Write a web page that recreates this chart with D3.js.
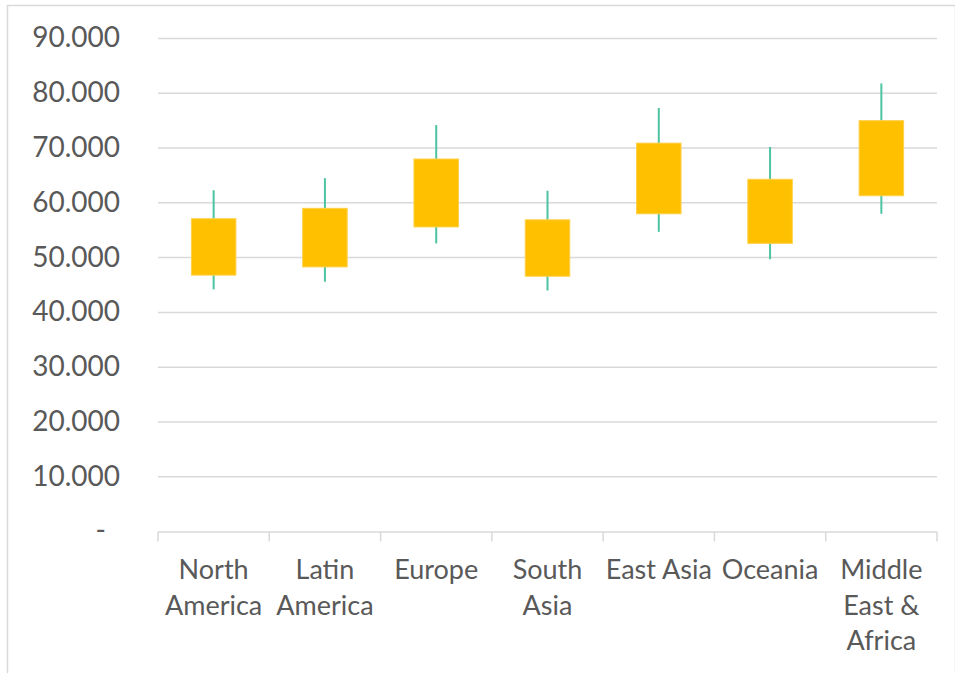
<!DOCTYPE html>
<html>
<head>
<meta charset="utf-8">
<script src="https://cdn.jsdelivr.net/npm/d3@7"></script>
<style>
  html, body { margin: 0; padding: 0; background: #fff; }
  svg { display: block; font-family: Lato, "Open Sans", sans-serif; }
</style>
</head>
<body>
<svg id="chart" width="955" height="673"></svg>
<script>
// Regional ranges: whisker low/high and box bottom/top per region
const categories = ["North America", "Latin America", "Europe", "South Asia", "East Asia", "Oceania", "Middle East & Africa"];
const categoryLines = [["North", "America"], ["Latin", "America"], ["Europe"], ["South", "Asia"], ["East Asia"], ["Oceania"], ["Middle", "East &", "Africa"]];
const lows      = [44.2, 45.6, 52.6, 44.0, 54.7, 49.7, 58.0];
const boxBottom = [46.8, 48.3, 55.6, 46.6, 58.0, 52.6, 61.3];
const boxTop    = [57.1, 59.0, 68.0, 56.9, 70.9, 64.3, 75.0];
const highs     = [62.3, 64.5, 74.2, 62.2, 77.3, 70.2, 81.8];
const tickValues = [0, 10, 20, 30, 40, 50, 60, 70, 80, 90];
const tickLabels = ["-", "10.000", "20.000", "30.000", "40.000", "50.000", "60.000", "70.000", "80.000", "90.000"];

(function draw() {
  const svg = d3.select("#chart");
  const W = 955, H = 673;
  const plotLeft = 158, plotRight = 937, plotTop = 38.5, plotBottom = 531.5;
  const textColor = "#595959";
  const gridColor = "#d9d9d9";

  // Outer chart frame
  svg.append("rect")
    .attr("x", 7.5).attr("y", 5.5)
    .attr("width", W - 7).attr("height", H)
    .attr("fill", "none").attr("stroke", gridColor).attr("stroke-width", 1.5);

  const x = d3.scaleBand().domain(categories).range([plotLeft, plotRight]).paddingInner(0).paddingOuter(0);
  const y = d3.scaleLinear().domain([0, 90]).range([plotBottom, plotTop]);

  // Horizontal gridlines
  svg.append("g")
    .selectAll("line")
    .data(tickValues.filter(v => v > 0))
    .join("line")
    .attr("x1", plotLeft).attr("x2", plotRight)
    .attr("y1", d => y(d)).attr("y2", d => y(d))
    .attr("stroke", gridColor).attr("stroke-width", 1.5);

  // Y axis labels
  const yAxis = d3.axisLeft(y)
    .tickValues(tickValues)
    .tickSize(0)
    .tickPadding(0)
    .tickFormat((d, i) => tickLabels[i]);
  const yg = svg.append("g").attr("transform", "translate(120,0)").call(yAxis);
  yg.select(".domain").remove();
  yg.selectAll("text")
    .attr("fill", textColor)
    .attr("font-size", 28)
    .attr("font-family", "Lato, 'Open Sans', sans-serif")
    .attr("dy", "0.3em");
  yg.selectAll(".tick").filter(d => d === 0).select("text").attr("dx", -14);

  // X axis baseline with category boundary ticks
  const xg = svg.append("g");
  xg.append("line")
    .attr("x1", plotLeft).attr("x2", plotRight)
    .attr("y1", y(0) + 0.5).attr("y2", y(0) + 0.5)
    .attr("stroke", gridColor).attr("stroke-width", 1.5);
  const boundaries = categories.map(c => x(c)).concat([x(categories[categories.length - 1]) + x.bandwidth()]);
  xg.selectAll("line.tick")
    .data(boundaries)
    .join("line")
    .attr("class", "tick")
    .attr("x1", d => d).attr("x2", d => d)
    .attr("y1", y(0) + 0.5).attr("y2", y(0) + 10)
    .attr("stroke", gridColor).attr("stroke-width", 1.5);

  // Category labels (wrapped over several lines)
  const lbl = svg.append("g");
  categories.forEach((c, i) => {
    const cx = x(c) + x.bandwidth() / 2;
    const t = lbl.append("text")
      .attr("x", cx).attr("y", 579)
      .attr("text-anchor", "middle")
      .attr("fill", textColor)
      .attr("font-size", 27);
    categoryLines[i].forEach((line, j) => {
      t.append("tspan").attr("x", cx).attr("y", 579 + j * 35.5).text(line);
    });
  });

  // Whiskers
  const bw = x.bandwidth() * 0.4;
  svg.append("g")
    .selectAll("line")
    .data(categories)
    .join("line")
    .attr("x1", d => x(d) + x.bandwidth() / 2)
    .attr("x2", d => x(d) + x.bandwidth() / 2)
    .attr("y1", (d, i) => y(highs[i]))
    .attr("y2", (d, i) => y(lows[i]))
    .attr("stroke", "#4cc3a1").attr("stroke-width", 2);

  // Boxes
  svg.append("g")
    .selectAll("rect")
    .data(categories)
    .join("rect")
    .attr("x", d => x(d) + x.bandwidth() / 2 - bw / 2)
    .attr("width", bw)
    .attr("y", (d, i) => y(boxTop[i]))
    .attr("height", (d, i) => y(boxBottom[i]) - y(boxTop[i]))
    .attr("fill", "#ffc000")
    .attr("stroke", "#ffd04a").attr("stroke-width", 1);
})();
</script>
</body>
</html>
